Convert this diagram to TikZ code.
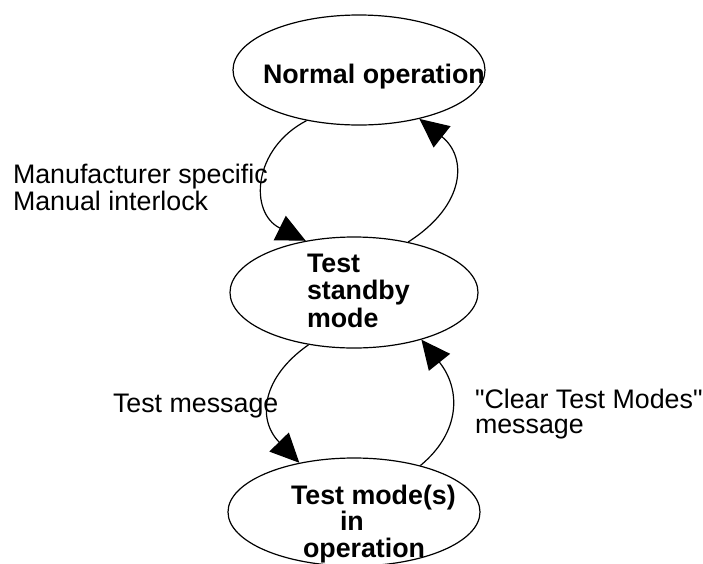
\documentclass[tikz,border=0pt]{standalone}
\usepackage{fontspec}
\setmainfont{Liberation Sans}
\newfontfamily\plainqfont{Liberation Sans}
\usetikzlibrary{shapes.geometric,arrows.meta}
\tikzset{
  state/.style={draw, ellipse, line width=1.2pt, inner sep=0pt},
  lbl/.style={anchor=base west, inner sep=0pt, outer sep=0pt},
  trans/.style={line width=1.2pt, -{Triangle[length=29pt,width=27pt]}},
}
\newcommand{\txtsize}[1]{\fontsize{26.8}{#1}\selectfont}
\newcommand{\sq}{{\plainqfont"}}
\begin{document}
\begin{tikzpicture}[x=1pt,y=1pt]
\useasboundingbox (0,0) rectangle (703,-563);
% states
\node[state, minimum width=252pt, minimum height=110pt] (e1) at (359,-70) {};
\node[state, minimum width=248pt, minimum height=111pt] (e2) at (354,-292.5) {};
\node[state, minimum width=252pt, minimum height=108pt] (e3) at (354,-512) {};
% state texts
\node[lbl] (t1) at (263,-83) {\txtsize{27}\bfseries Normal operation};
\node[lbl] (t2) at (307,-272) {\txtsize{27.5}\bfseries\begin{tabular}[t]{@{}l@{}}Test\\standby\\mode\end{tabular}};
\node[lbl] (t3) at (291,-504) {\txtsize{25}\bfseries\begin{tabular}[t]{@{}l@{}}Test mode(s)\\\hspace{49pt}in\\\hspace{12pt}operation\end{tabular}};
% transitions
\draw[trans] (e1.224) .. controls +(-54,-28) and +(-57,28) .. (e2.133);
\draw[trans] (e2.43) .. controls +(58,37) and +(48,-38) .. (e1.321);
\draw[trans] (e2.229) .. controls +(-46,-32) and +(-43,44) .. (e3.138);
\draw[trans] (e3.35) .. controls +(40,33) and +(40,-50) .. (e2.325);
% transition labels
\node[lbl] (l1) at (13,-183) {\txtsize{27}\begin{tabular}[t]{@{}l@{}}Manufacturer specific\\Manual interlock\end{tabular}};
\node[lbl] (l2) at (113,-412) {\txtsize{26}Test message};
\node[lbl] (l3) at (475,-408) {\txtsize{25}\begin{tabular}[t]{@{}l@{}}\sq Clear Test Modes\sq\\message\end{tabular}};
\end{tikzpicture}
\end{document}
